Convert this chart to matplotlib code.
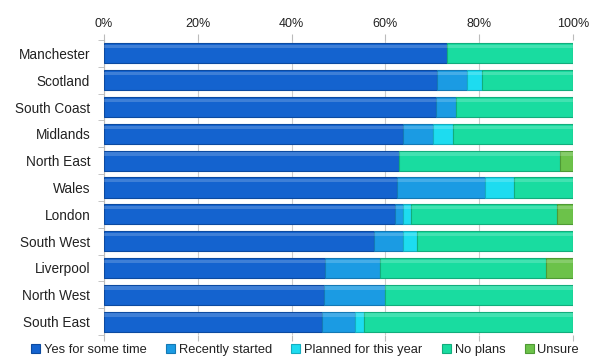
import matplotlib.pyplot as plt
import numpy as np

plt.rcParams['font.family'] = ['Liberation Sans', 'DejaVu Sans']

regions = ['Manchester', 'Scotland', 'South Coast', 'Midlands', 'North East', 'Wales',
           'London', 'South West', 'Liverpool', 'North West', 'South East']
series = ['Yes for some time', 'Recently started', 'Planned for this year', 'No plans', 'Unsure']

# percentages per region, in the order of the series above
yes_for_some_time = [73.2, 70.9, 70.7, 63.8, 62.8, 62.5, 62.1, 57.6, 47.1, 46.8, 46.4]
recently_started = [0.0, 6.4, 4.3, 6.4, 0.0, 18.7, 1.7, 6.1, 11.7, 13.1, 7.1]
planned_this_year = [0.0, 3.2, 0.0, 4.3, 0.0, 6.2, 1.6, 3.0, 0.0, 0.0, 1.9]
no_plans = [26.8, 19.5, 25.0, 25.5, 34.4, 12.6, 31.1, 33.3, 35.4, 40.1, 44.6]
unsure = [0.0, 0.0, 0.0, 0.0, 2.8, 0.0, 3.5, 0.0, 5.8, 0.0, 0.0]

colors = ['#1463cf', '#1b9be3', '#1ddcf0', '#19dca0', '#6cc24a']
edges = ['#0c4aa0', '#1479b4', '#14aec0', '#12ad7c', '#4e9a34']

data = np.array([yes_for_some_time, recently_started, planned_this_year, no_plans, unsure])

fig = plt.figure(figsize=(5.92, 3.63), dpi=100)
ax = fig.add_axes([0.1757, 0.077, 0.7923, 0.813])

y = np.arange(len(regions))
left = np.zeros(len(regions))
for vals, name, c, ec in zip(data, series, colors, edges):
    ax.barh(y, vals, left=left, height=0.75, color=c, edgecolor=ec, linewidth=0.8,
            label=name, zorder=3)
    # lighter sheen along the top of each bar
    ax.barh(y - 0.25, vals, left=left, height=0.12, color='white', alpha=0.18,
            linewidth=0, zorder=4)
    left += vals

ax.set_xlim(0, 100)
ax.set_ylim(len(regions) - 0.5, -0.5)
ax.set_xticks(np.arange(0, 101, 20))
ax.set_xticklabels([f'{v}%' for v in range(0, 101, 20)])
ax.xaxis.tick_top()
ax.tick_params(axis='x', labelsize=9, length=4, color='#bbbbbb', pad=3,
               bottom=True, top=True, labelbottom=False, labeltop=True, labelcolor='#222222')
ax.set_yticks(y)
ax.set_yticklabels(regions, fontsize=9.8, color='#222222')
ax.set_yticks(np.arange(len(regions) + 1) - 0.5, minor=True)
ax.tick_params(axis='y', which='major', length=0, pad=10)
ax.tick_params(axis='y', which='minor', length=4, color='#bbbbbb')
ax.grid(axis='x', color='#cccccc', linewidth=0.8, zorder=0)
for side in ['top', 'right', 'bottom']:
    ax.spines[side].set_visible(False)
ax.spines['left'].set_color('#bbbbbb')

fig.legend(loc='lower center', bbox_to_anchor=(0.515, -0.012), ncol=5, frameon=False,
           fontsize=9.3, handlelength=0.7, handleheight=0.7, handletextpad=0.3,
           columnspacing=1.5, labelcolor='#222222')

plt.savefig('out.png', dpi=100)
